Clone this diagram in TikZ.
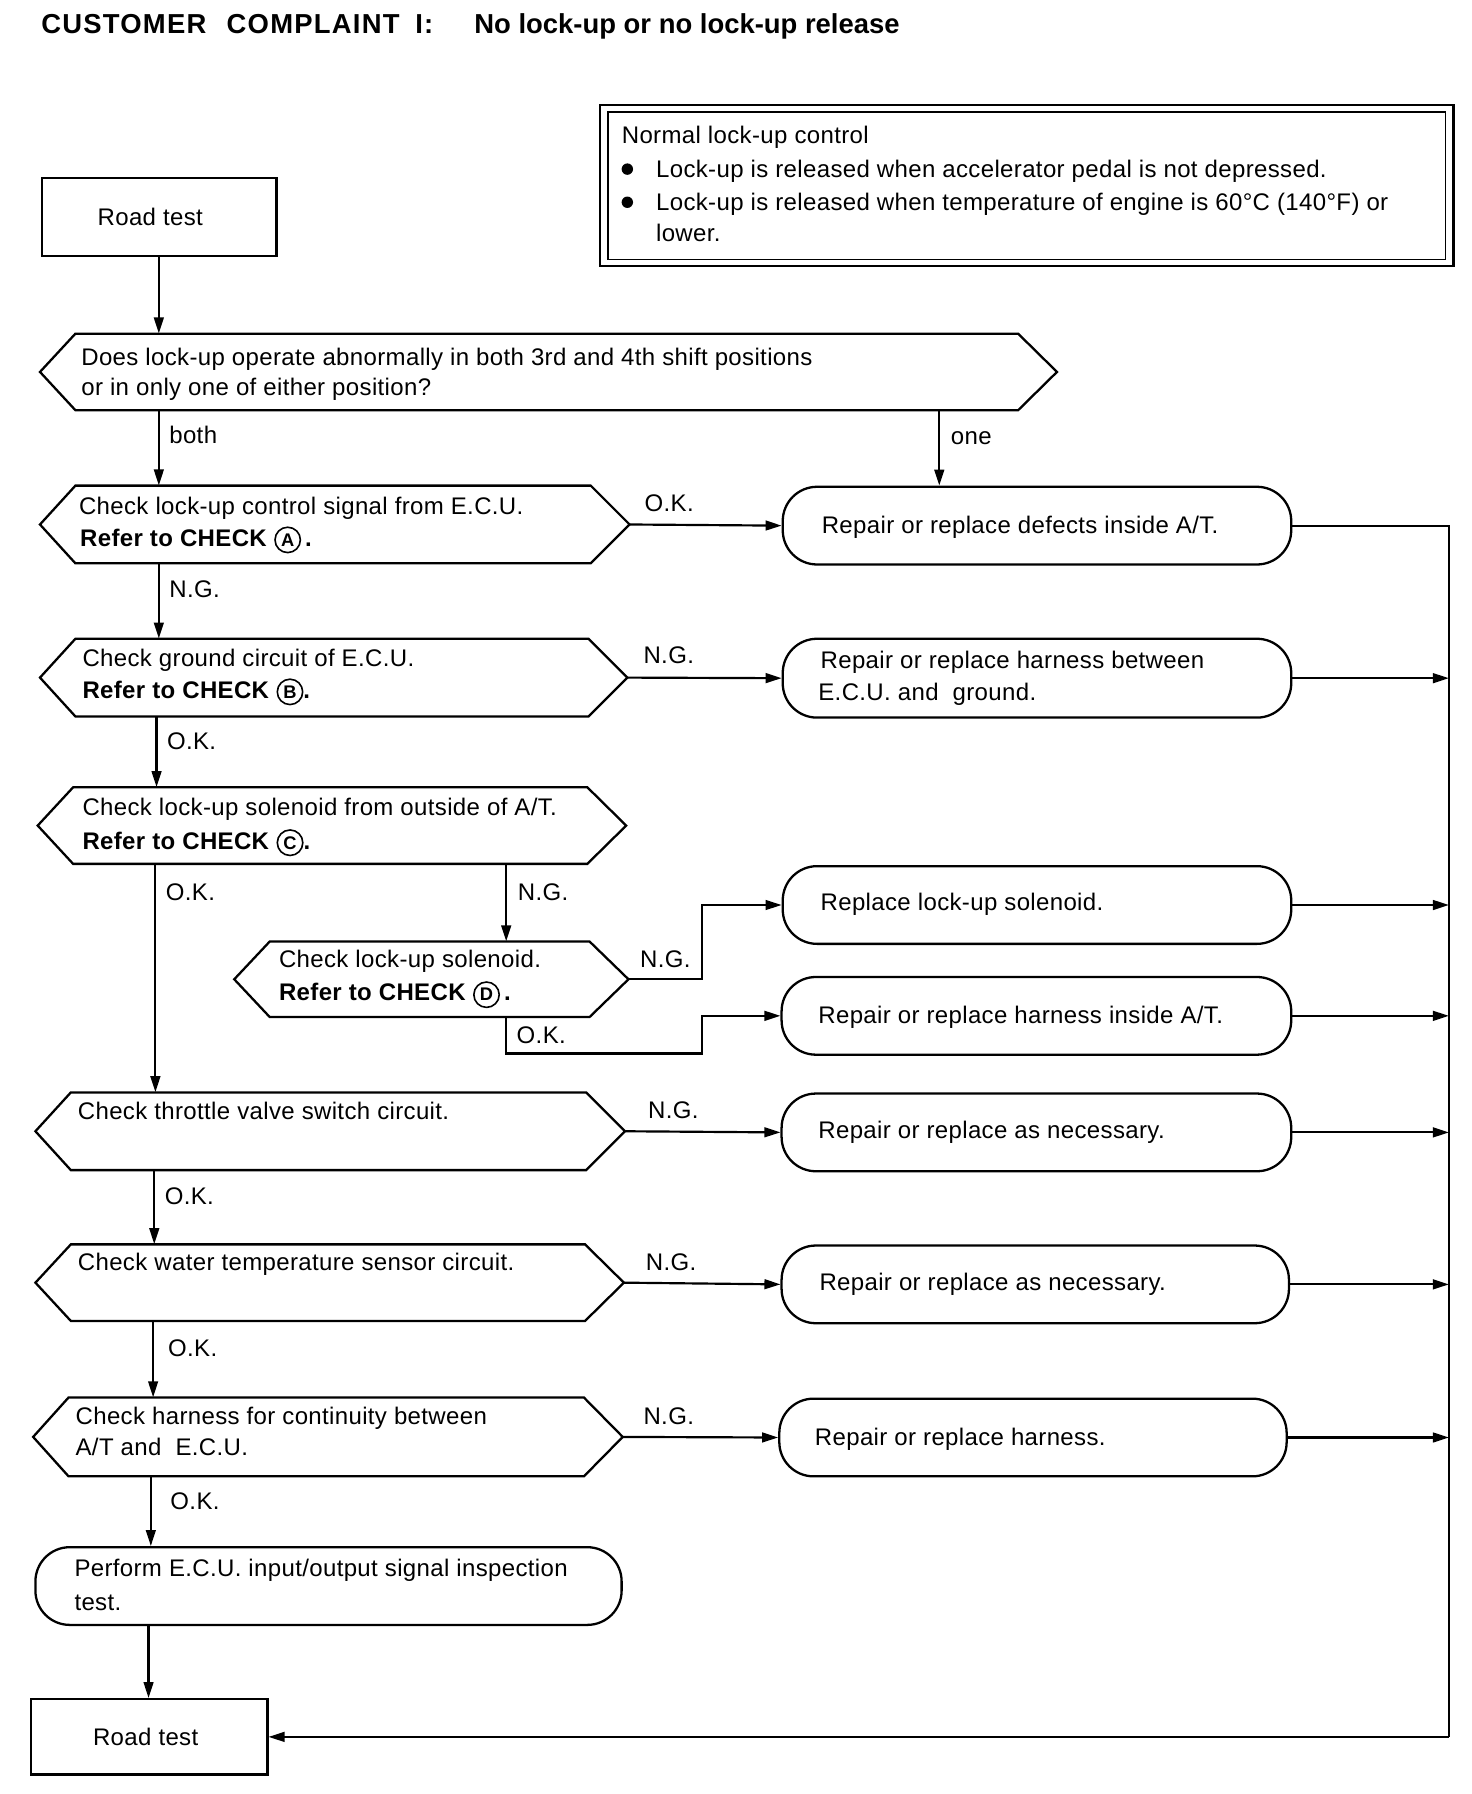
\documentclass[tikz,border=0pt]{standalone}
\usepackage{fontspec}
\setmainfont{Liberation Sans}[LetterSpace=1.5]
\usetikzlibrary{arrows.meta}
\newcommand\circlt[1]{\tikz[baseline=(cc.base)]\node[draw,circle,line width=1.4pt,inner sep=2.2pt,font=\bfseries\fontsize{16}{16}\selectfont](cc){#1};}
\newcommand\decbox[5]{%
  \draw[shp] (#2,{(#4+#5)/2}) -- (#2+31,#4) -- (#3-34,#4) -- (#3,{(#4+#5)/2}) -- (#3-34,#5) -- (#2+31,#5) -- cycle;
  \node[minimum width={(#3-#2)*1pt}, minimum height={(#5-#4)*1pt}] (#1) at ({(#2+#3)/2},{(#4+#5)/2}) {};
}
\begin{document}
\begin{tikzpicture}[x=1pt,y=-1pt,
  every node/.style={font=\fontsize{21}{26}\selectfont, inner sep=0pt},
  txt/.style={anchor=base west},
  shp/.style={draw, line width=2pt, line join=miter},
  rbox/.style={draw, line width=2pt, rounded corners=30pt, minimum width=445pt, minimum height=68pt},
  sbox/.style={draw, line width=2pt},
  conn/.style={line width=1.9pt},
  arr/.style={conn, -{Triangle[length=14pt,width=8.5pt]}},
]
\useasboundingbox (0,0) rectangle (1288,1570);

% title
\node[txt,font=\bfseries\fontsize{24}{28}\selectfont] (title1) at (36,29) {\addfontfeatures{LetterSpace=4.5}CUSTOMER\hspace{10pt} COMPLAINT\hspace{6pt} I:};
\node[txt,font=\bfseries\fontsize{24}{28}\selectfont] (title2) at (415,29) {\addfontfeatures{LetterSpace=0}No lock-up or no lock-up release};

% notes box
\node[draw,line width=2.2pt,minimum width=747pt,minimum height=141pt] (noteo) at (898.5,162.5) {};
\node[draw,line width=1.4pt,minimum width=733pt,minimum height=129pt] (notei) at (noteo.center) {};
\node[txt] (n0) at (544,126) {Normal lock-up control};
\fill (549,148) circle (5pt);
\fill (549,177) circle (5pt);
\node[txt] (n1) at (574,155) {Lock-up is released when accelerator pedal is not depressed.};
\node[txt] (n2) at (574,184) {Lock-up is released when temperature of engine is 60\textdegree C (140\textdegree F) or};
\node[txt] (n3) at (574,211) {lower.};

% road test
\node[sbox,minimum width=205pt,minimum height=68pt] (rt1) at (139.5,190) {Road test\hspace*{16pt}};

% decisions
\decbox{d1}{35}{925}{292}{359}
\decbox{d2}{35}{551}{425}{493}
\decbox{d3}{35}{549}{559}{627}
\decbox{d4}{33}{548}{689}{756}
\decbox{d5}{205}{550}{824}{890}
\decbox{d6}{31}{547}{956}{1024}
\decbox{d7}{31}{546}{1089}{1156}
\decbox{d8}{29}{545}{1223}{1292}

\node[txt] at (71,320) {Does lock-up operate abnormally in both 3rd and 4th shift positions};
\node[txt] at (71,346) {or in only one of either position?};
\node[txt] at (69,450) {Check lock-up control signal from E.C.U.};
\node[txt] at (70,478) {\textbf{Refer to CHECK} \circlt{A}\,\textbf{.}};
\node[txt] at (72,583) {Check ground circuit of E.C.U.};
\node[txt] at (72,611) {\textbf{Refer to CHECK} \circlt{B}\textbf{.}};
\node[txt] at (72,714) {Check lock-up solenoid from outside of A/T.};
\node[txt] at (72,743) {\textbf{Refer to CHECK} \circlt{C}\textbf{.}};
\node[txt] at (244,847) {Check lock-up solenoid.};
\node[txt] at (244,876) {\textbf{Refer to CHECK} \circlt{D}\,\textbf{.}};
\node[txt] at (68,980) {Check throttle valve switch circuit.};
\node[txt] at (68,1112) {Check water temperature sensor circuit.};
\node[txt] at (66,1247) {Check harness for continuity between};
\node[txt] at (66,1274) {A/T and\ \ E.C.U.};

% result boxes
\node[rbox] (r1) at (907.5,460) {};
\node[rbox,minimum height=69pt] (r2) at (907.5,593.5) {};
\node[rbox] (r3) at (907.5,792) {};
\node[rbox,minimum width=446pt] (r4) at (907,889) {};
\node[rbox,minimum width=446pt] (r5) at (907,991) {};
\node[rbox,minimum width=444pt] (r6) at (906,1124) {};
\node[rbox,minimum width=444pt] (r7) at (904,1258) {};
\node[rbox,minimum width=513pt] (r8) at (287.5,1388) {};

\node[txt] at (719,467) {Repair or replace defects inside A/T.};
\node[txt] at (718,585) {Repair or replace harness between};
\node[txt] at (716,613) {E.C.U. and\ \ ground.};
\node[txt] at (718,797) {Replace lock-up solenoid.};
\node[txt] at (716,896) {Repair or replace harness inside A/T.};
\node[txt] at (716,996) {Repair or replace as necessary.};
\node[txt] at (717,1129) {Repair or replace as necessary.};
\node[txt] at (713,1265) {Repair or replace harness.};
\node[txt] at (65,1380) {Perform E.C.U. input/output signal inspection};
\node[txt] at (65,1409) {test.};

\node[sbox,minimum width=207pt,minimum height=66pt] (rt2) at (130.5,1520) {Road test\hspace*{6pt}};

% column coordinates
\coordinate (c139) at (139,0);
\coordinate (c137) at (137,0);
\coordinate (c136) at (136,0);
\coordinate (c135) at (135,0);
\coordinate (c134) at (134,0);
\coordinate (c132) at (132,0);
\coordinate (c130) at (130,0);
\coordinate (c443) at (443,0);
\coordinate (cone) at (822,0);
\coordinate (cR) at (1268,0);
\coordinate (k2) at (614,922);

% connectors
\draw[arr] (rt1.south -| c139) -- (d1.north -| c139);
\draw[arr] (d1.south -| c139) -- (d2.north -| c139);
\draw[arr] (d1.south -| cone) -- (r1.north -| cone);
\draw[arr] (d2.east) -- (r1.west);
\draw[arr] (d2.south -| c139) -- (d3.north -| c139);
\draw[arr] (d3.east) -- (r2.west);
\draw[arr] (d3.south -| c137) -- (d4.north -| c137);
\draw[arr] (d4.south -| c136) -- (d6.north -| c136);
\draw[arr] (d4.south -| c443) -- (d5.north -| c443);
\draw[arr] (d5.east) -- (d5.east -| k2) |- (r3.west);
\draw[arr] (d5.south -| c443) |- (k2) |- (r4.west);
\draw[arr] (d6.east) -- (r5.west);
\draw[arr] (d6.south -| c135) -- (d7.north -| c135);
\draw[arr] (d7.east) -- (r6.west);
\draw[arr] (d7.south -| c134) -- (d8.north -| c134);
\draw[arr] (d8.east) -- (r7.west);
\draw[arr] (d8.south -| c132) -- (r8.north -| c132);
\draw[arr] (r8.south -| c130) -- (rt2.north -| c130);

\draw[conn] (r1.east) -- (r1.east -| cR) -- (rt2.east -| cR);
\draw[arr] (rt2.east -| cR) -- (rt2.east);
\draw[arr] (r2.east) -- (r2.east -| cR);
\draw[arr] (r3.east) -- (r3.east -| cR);
\draw[arr] (r4.east) -- (r4.east -| cR);
\draw[arr] (r5.east) -- (r5.east -| cR);
\draw[arr] (r6.east) -- (r6.east -| cR);
\draw[arr] (r7.east) -- (r7.east -| cR);

% labels
\node[txt] at (148,388) {both};
\node[txt] at (832,389) {one};
\node[txt] at (564,448) {O.K.};
\node[txt] at (148,523) {N.G.};
\node[txt] at (563,581) {N.G.};
\node[txt] at (146,656) {O.K.};
\node[txt] at (145,788) {O.K.};
\node[txt] at (453,788) {N.G.};
\node[txt] at (560,847) {N.G.};
\node[txt] at (452,913) {O.K.};
\node[txt] at (567,979) {N.G.};
\node[txt] at (144,1054) {O.K.};
\node[txt] at (565,1112) {N.G.};
\node[txt] at (147,1187) {O.K.};
\node[txt] at (563,1247) {N.G.};
\node[txt] at (149,1321) {O.K.};
\end{tikzpicture}
\end{document}
